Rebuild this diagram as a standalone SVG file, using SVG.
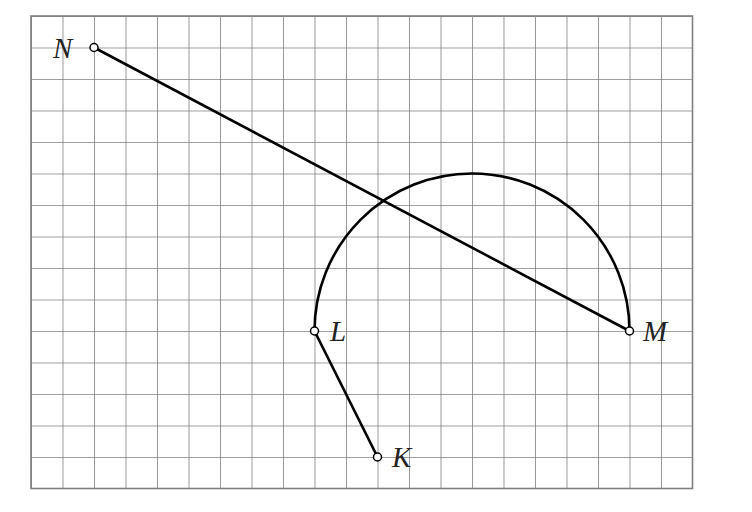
<svg xmlns="http://www.w3.org/2000/svg" width="752" height="512" viewBox="0 0 752 512">
<defs>
<pattern id="grid" x="31" y="16" width="31.5" height="31.5" patternUnits="userSpaceOnUse">
<path d="M0 0H31.5M0 0V31.5" fill="none" stroke="#7f7f7f" stroke-width="1.6"/>
</pattern>
</defs>
<style>
.ln{fill:none;stroke:#000;stroke-width:2.6}
.pt{fill:#fff;stroke:#000;stroke-width:1.5}
.lb{font-family:"Liberation Serif",serif;font-style:italic;font-size:29px;fill:#222}
</style>
<rect width="752" height="512" fill="#fff"/>
<g id="grid-bg">
<rect x="31" y="16" width="661.5" height="472.5" fill="url(#grid)"/>
<rect x="31" y="16" width="661.5" height="472.5" fill="none" stroke="#7f7f7f" stroke-width="1.6"/>
</g>
<g id="connectors">
<line class="ln" x1="94" y1="47.5" x2="629.5" y2="331"/>
<path class="ln" d="M314.5 331A157.5 157.5 0 0 1 629.5 331"/>
<line class="ln" x1="314.5" y1="331" x2="377.5" y2="457"/>
</g>
<g id="N"><circle class="pt" cx="94" cy="47.5" r="4"/><text class="lb" x="53" y="58">N</text></g>
<g id="L"><circle class="pt" cx="314.5" cy="331" r="4"/><text class="lb" x="330" y="341">L</text></g>
<g id="M"><circle class="pt" cx="629.5" cy="331" r="4"/><text class="lb" x="643" y="341">M</text></g>
<g id="K"><circle class="pt" cx="377.5" cy="457" r="4"/><text class="lb" x="392" y="467">K</text></g>
</svg>
